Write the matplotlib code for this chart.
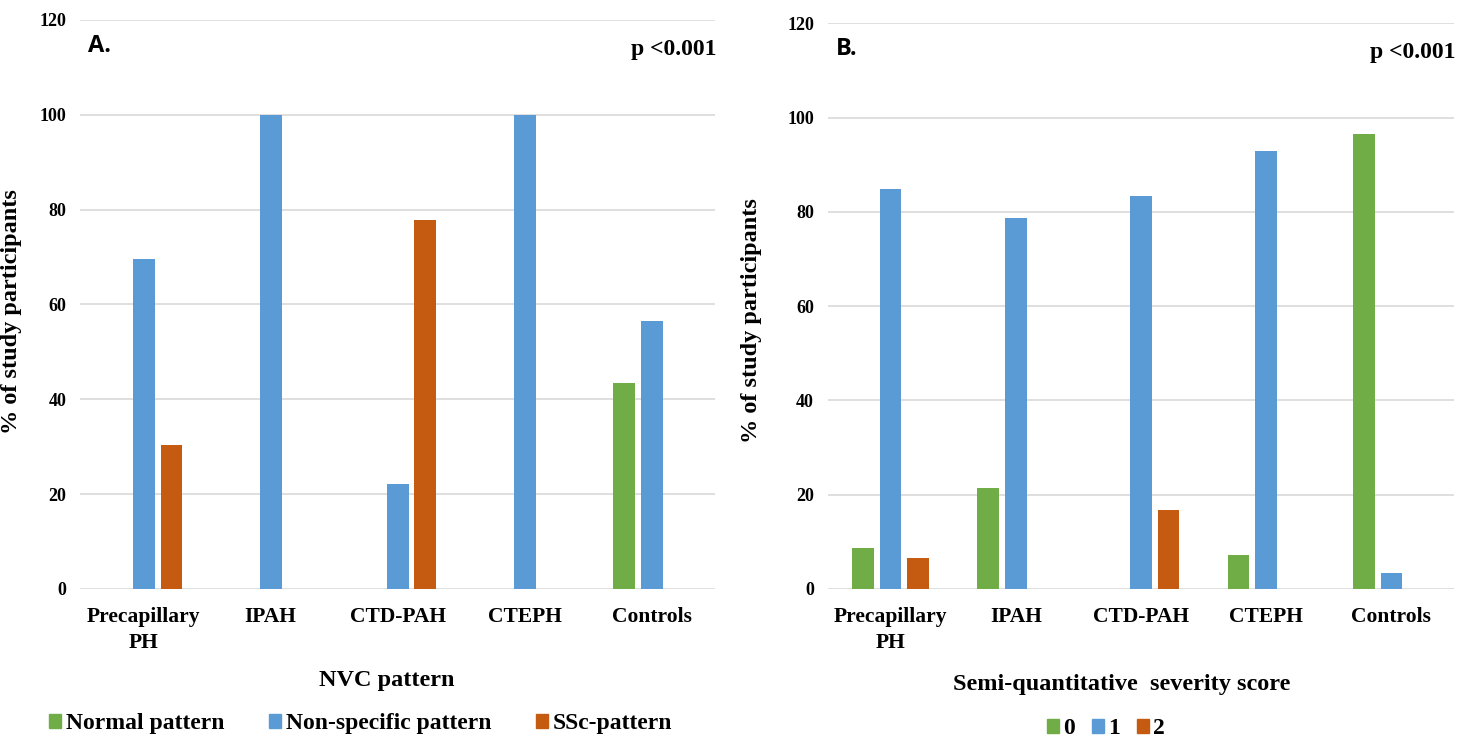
import numpy as np
import matplotlib
matplotlib.use("Agg")
import matplotlib.pyplot as plt
from matplotlib.patches import Patch

groups = ["Precapillary\nPH", "IPAH", "CTD-PAH", "CTEPH", "Controls"]

# panel A: NVC pattern
nvc_labels = ["Normal pattern", "Non-specific pattern", "SSc-pattern"]
nvc_normal = [0, 0, 0, 0, 43.5]
nvc_nonspec = [69.6, 100, 22.2, 100, 56.5]
nvc_ssc = [30.4, 0, 77.8, 0, 0]

# panel B: semi-quantitative severity score
score_labels = ["0", "1", "2"]
score_0 = [8.7, 21.4, 0, 7.1, 96.6]
score_1 = [84.8, 78.6, 83.3, 92.9, 3.4]
score_2 = [6.5, 0, 16.7, 0, 0]

colors = ["#70AD47", "#5B9BD5", "#C55A11"]
serif = "Liberation Serif"

fig = plt.figure(figsize=(14.61, 7.40), dpi=100)
ax_a = fig.add_axes([0.0548, 0.2041, 0.4346, 0.7689])
ax_b = fig.add_axes([0.5667, 0.2041, 0.4285, 0.7644])


def draw(ax, series, xlabel, tag, xlab_pos, ylab_pos):
    x = np.arange(len(groups))
    w = 0.173
    step = 0.22
    for i, vals in enumerate(series):
        ax.bar(x + (i - 1) * step, vals, w, color=colors[i], zorder=3)
    ax.set_xlim(-0.5, len(groups) - 0.5)
    ax.set_ylim(0, 120)
    ax.set_yticks(range(0, 121, 20))
    ax.grid(axis="y", color="#d9d9d9", lw=1.2, zorder=0)
    for s in ax.spines.values():
        s.set_visible(False)
    ax.tick_params(length=0)
    ax.tick_params(axis="y", pad=10)
    ax.tick_params(axis="x", pad=13)
    ax.set_xticks(x)
    ax.set_xticklabels(groups, fontfamily=serif, fontweight="bold", fontsize=15.5,
                       linespacing=1.4)
    for t in ax.get_yticklabels():
        t.set_fontfamily(serif)
        t.set_fontweight("bold")
        t.set_fontsize(13)
    ax.set_xlabel(xlabel, fontfamily=serif, fontweight="bold", fontsize=17.5)
    ax.xaxis.set_label_coords(*xlab_pos)
    ax.set_ylabel("% of study participants", fontfamily=serif, fontweight="bold",
                  fontsize=17.5)
    ax.yaxis.set_label_coords(*ylab_pos)
    tr = ax.get_yaxis_transform()
    ax.text(0.012, 114.5, tag, transform=tr, fontfamily="Open Sans",
            fontweight="bold", fontsize=17, va="center", ha="left")
    ax.text(1.003, 113.8, "p <0.001", transform=tr,
            fontfamily=serif, fontweight="bold", fontsize=17, va="center", ha="right")


draw(ax_a, [nvc_normal, nvc_nonspec, nvc_ssc], "NVC pattern", "A.",
     (0.483, -0.142), (-0.091, 0.487))
draw(ax_b, [score_0, score_1, score_2], "Semi-quantitative  severity score", "B.",
     (0.47, -0.151), (-0.106, 0.475))

leg_font = {"family": serif, "weight": "bold", "size": 17}
handles_a = [Patch(color=c, label=l) for c, l in zip(colors, nvc_labels)]
fig.legend(handles=handles_a, loc="center", bbox_to_anchor=(0.247, 0.022), ncol=3,
           frameon=False, prop=leg_font, handlelength=0.5, handleheight=0.5,
           handletextpad=0.2, columnspacing=1.9)
handles_b = [Patch(color=c, label=l) for c, l in zip(colors, score_labels)]
fig.legend(handles=handles_b, loc="center", bbox_to_anchor=(0.757, 0.015), ncol=3,
           frameon=False, prop=leg_font, handlelength=0.5, handleheight=0.5,
           handletextpad=0.2, columnspacing=0.7)

fig.savefig("out.png", dpi=100, facecolor="white")
